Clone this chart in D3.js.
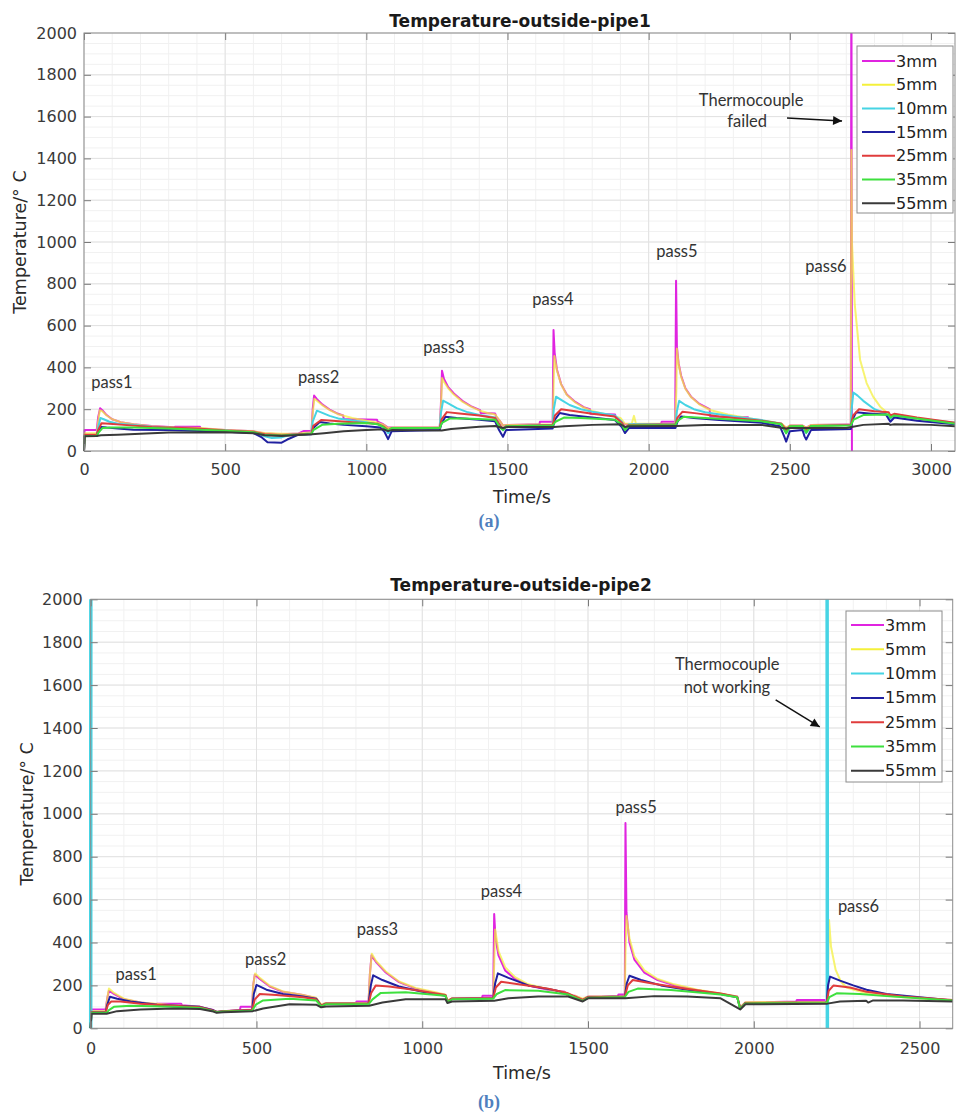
<!DOCTYPE html>
<html>
<head>
<meta charset="utf-8">
<script src="https://cdn.jsdelivr.net/npm/d3@7"></script>
<style>
body { margin: 0; background: #fff; }
svg { display: block; }
</style>
</head>
<body>
<svg id="chart" width="956" height="1113"></svg>
<script>
var seriesNames = ["3mm", "5mm", "10mm", "15mm", "25mm", "35mm", "55mm"];
var seriesColors = ["#e024e0", "#f4f03a", "#46d4e4", "#2020a0", "#e03c3c", "#3ee03e", "#3a3a3a"];
var seriesOpacity = [1, 0.72, 1, 1, 1, 1, 1];
var yTicks = [0, 200, 400, 600, 800, 1000, 1200, 1400, 1600, 1800, 2000];
var pipe1XTicks = [0, 500, 1000, 1500, 2000, 2500, 3000];
var pipe2XTicks = [0, 500, 1000, 1500, 2000, 2500];
var passNames = ["pass1", "pass2", "pass3", "pass4", "pass5", "pass6"];

// pipe 1: [time s, temperature C]
var pipe1_3mm = [[0,0],[2,100],[45,100],[50,160],[57,205],[65,195],[80,172],[100,152],[130,138],[175,128],[240,120],[320,114],[322,116],[411,116],[413,108],[500,100],[600,94],[640,84],[700,80],[760,84],[779,96],[806,96],[810,200],[815,265],[825,248],[845,222],[870,198],[900,178],[918,170],[920,153],[1038,150],[1040,140],[1060,128],[1077,112],[1100,112],[1215,113],[1260,114],[1264,220],[1268,384],[1275,345],[1290,305],[1310,275],[1340,240],[1370,215],[1403,195],[1405,182],[1456,180],[1460,165],[1475,140],[1484,122],[1500,124],[1613,128],[1615,140],[1660,140],[1663,579],[1667,470],[1675,390],[1690,320],[1710,270],[1740,235],[1770,210],[1792,200],[1794,178],[1881,175],[1883,160],[1900,145],[1916,128],[1930,128],[2044,130],[2046,140],[2094,140],[2097,815],[2100,500],[2106,420],[2115,360],[2130,300],[2150,260],[2180,225],[2216,200],[2218,165],[2352,162],[2354,150],[2420,140],[2470,130],[2487,110],[2500,122],[2545,122],[2558,112],[2575,124],[2700,127],[2716,127],[2718,2600],[2720,-60],[3085,-60]];
var pipe1_5mm = [[0,0],[2,85],[45,85],[50,140],[56,195],[65,190],[80,170],[100,152],[130,138],[175,128],[240,118],[320,112],[411,110],[500,100],[600,94],[640,86],[700,82],[760,84],[806,90],[810,180],[816,250],[825,240],[845,218],[870,196],[900,176],[950,158],[1000,145],[1040,135],[1060,126],[1077,110],[1100,112],[1260,112],[1264,200],[1268,349],[1275,330],[1290,300],[1310,270],[1340,236],[1370,212],[1400,194],[1430,182],[1456,175],[1475,140],[1484,122],[1500,124],[1660,128],[1663,300],[1666,455],[1675,385],[1690,318],[1710,268],[1740,232],[1770,208],[1800,192],[1850,175],[1900,158],[1916,130],[1940,130],[1948,168],[1955,130],[2094,130],[2098,300],[2100,490],[2106,415],[2115,355],[2130,298],[2150,258],[2180,222],[2220,195],[2280,175],[2350,158],[2420,142],[2470,132],[2487,112],[2500,122],[2545,122],[2558,112],[2575,124],[2716,127],[2718,1440],[2720,1000],[2730,700],[2749,435],[2772,325],[2795,260],[2820,212],[2855,172],[2900,158],[3000,145],[3085,135]];
var pipe1_10mm = [[0,0],[2,75],[45,75],[50,110],[58,158],[70,152],[90,140],[120,130],[175,125],[240,116],[320,110],[500,98],[600,90],[640,70],[665,62],[700,65],[730,78],[806,84],[810,140],[825,193],[840,185],[870,168],[900,156],[950,146],[1000,138],[1050,125],[1070,100],[1077,85],[1090,105],[1260,110],[1264,180],[1272,241],[1290,228],[1320,205],[1360,185],[1400,172],[1456,160],[1475,120],[1484,100],[1495,118],[1660,125],[1664,200],[1672,260],[1690,245],[1720,220],[1760,200],[1800,188],[1880,170],[1905,140],[1916,100],[1930,128],[2095,128],[2100,190],[2108,240],[2130,220],[2160,200],[2200,185],[2300,165],[2400,148],[2470,130],[2487,85],[2500,112],[2545,115],[2558,85],[2575,118],[2716,125],[2719,200],[2725,280],[2740,265],[2760,240],[2800,200],[2840,180],[2856,155],[2870,168],[2950,155],[3085,135]];
var pipe1_15mm = [[0,0],[2,72],[45,72],[50,95],[60,115],[80,112],[120,108],[175,102],[300,100],[500,92],[600,86],[630,65],[650,42],[700,40],[720,55],[760,78],[806,80],[812,110],[835,139],[870,132],[920,125],[1000,118],[1050,112],[1065,90],[1077,57],[1090,95],[1260,100],[1266,130],[1280,164],[1320,158],[1400,150],[1456,142],[1470,100],[1484,68],[1495,100],[1660,108],[1668,150],[1685,182],[1720,172],[1800,160],[1880,148],[1905,115],[1916,86],[1930,110],[2095,110],[2102,140],[2115,165],[2160,158],[2250,148],[2400,135],[2465,118],[2480,70],[2487,45],[2500,95],[2545,100],[2552,70],[2558,55],[2575,100],[2716,105],[2722,150],[2735,185],[2780,180],[2840,175],[2856,140],[2870,160],[2950,145],[3085,128]];
var pipe1_25mm = [[0,0],[2,78],[45,78],[50,100],[62,133],[90,130],[140,125],[240,115],[400,108],[500,98],[600,92],[640,80],[700,75],[760,80],[806,84],[812,120],[840,148],[880,145],[950,138],[1040,130],[1060,118],[1077,100],[1090,110],[1260,110],[1266,150],[1285,186],[1330,180],[1400,170],[1456,158],[1475,120],[1484,105],[1495,118],[1660,125],[1668,170],[1690,200],[1740,190],[1800,178],[1880,165],[1905,135],[1916,110],[1930,125],[2095,128],[2102,160],[2120,188],[2170,180],[2250,165],[2400,145],[2470,130],[2487,100],[2500,118],[2545,118],[2558,100],[2575,120],[2716,125],[2724,170],[2745,200],[2800,190],[2850,185],[2856,170],[2870,178],[2950,160],[3085,135]];
var pipe1_35mm = [[0,0],[2,72],[45,72],[50,85],[65,110],[100,113],[175,112],[300,108],[500,97],[600,90],[640,76],[700,74],[760,78],[806,82],[812,100],[845,126],[900,130],[1000,134],[1040,128],[1060,115],[1077,98],[1090,110],[1260,110],[1268,135],[1295,155],[1350,156],[1456,150],[1475,110],[1484,100],[1495,118],[1660,122],[1670,140],[1700,160],[1760,158],[1880,150],[1905,125],[1916,100],[1930,122],[2095,125],[2103,145],[2125,164],[2200,158],[2400,142],[2470,128],[2487,85],[2500,118],[2545,120],[2558,88],[2575,120],[2716,122],[2726,150],[2760,172],[2850,175],[2856,160],[2870,170],[2950,155],[3085,130]];
var pipe1_55mm = [[0,0],[2,70],[45,72],[60,75],[120,78],[200,82],[300,88],[500,90],[600,85],[640,75],[700,72],[760,76],[808,80],[850,85],[920,95],[1000,100],[1060,104],[1077,95],[1090,100],[1267,98],[1300,105],[1400,116],[1456,120],[1484,110],[1500,115],[1665,115],[1700,118],[1800,125],[1900,128],[1916,115],[1930,118],[2099,120],[2200,124],[2400,125],[2487,108],[2500,110],[2700,110],[2719,115],[2760,125],[2850,130],[2856,125],[2870,128],[3000,125],[3085,118]];

// pipe 2: [time s, temperature C]
var pipe2_3mm = [[0,0],[2,88],[45,88],[50,140],[55,175],[70,160],[100,135],[150,120],[198,112],[200,115],[273,115],[275,108],[330,100],[370,85],[380,76],[400,80],[450,85],[452,100],[487,100],[490,200],[495,250],[510,230],[540,195],[580,170],[640,155],[680,140],[695,108],[710,118],[800,118],[802,125],[838,125],[842,250],[847,340],[860,310],[890,260],[930,215],[980,185],[1040,165],[1070,155],[1076,128],[1090,140],[1180,140],[1182,152],[1214,152],[1217,533],[1221,420],[1230,340],[1250,270],[1280,230],[1320,200],[1380,180],[1430,170],[1440,150],[1460,152],[1484,135],[1500,148],[1590,150],[1592,158],[1611,158],[1613,957],[1616,540],[1625,400],[1640,320],[1670,260],[1710,225],[1760,200],[1830,178],[1900,160],[1950,148],[1959,95],[1975,120],[2128,125],[2130,132],[2216,132]];
var pipe2_5mm = [[0,0],[2,80],[45,80],[50,140],[55,186],[70,165],[100,138],[150,120],[250,108],[330,100],[370,84],[380,76],[400,80],[487,88],[490,200],[496,256],[510,235],[540,198],[580,172],[640,155],[680,142],[695,110],[710,118],[838,118],[842,250],[848,348],[860,315],[890,265],[930,218],[980,188],[1040,168],[1070,157],[1076,130],[1090,140],[1214,142],[1217,300],[1220,461],[1230,360],[1250,285],[1280,238],[1320,205],[1380,182],[1430,168],[1440,150],[1460,152],[1484,138],[1500,148],[1611,150],[1613,350],[1616,523],[1625,420],[1640,335],[1670,270],[1710,230],[1760,205],[1830,180],[1900,162],[1950,148],[1959,98],[1975,122],[2222,124],[2227,505],[2233,380],[2247,272],[2263,217],[2280,190],[2302,179],[2350,160],[2450,145],[2600,130]];
var pipe2_10mm = [[0,-60],[0.5,2600],[2221,2600],[2222,-60],[2600,-60]];
var pipe2_15mm = [[0,0],[2,75],[45,75],[50,110],[58,147],[80,138],[120,125],[200,110],[330,100],[370,84],[380,76],[400,80],[487,85],[492,160],[500,202],[530,180],[580,160],[640,148],[680,138],[695,105],[710,115],[838,115],[845,200],[852,247],[880,225],[930,195],[1000,170],[1070,152],[1076,125],[1090,138],[1214,140],[1220,210],[1228,256],[1260,235],[1320,200],[1400,178],[1440,160],[1484,130],[1500,145],[1611,148],[1617,210],[1625,245],[1660,225],[1720,200],[1800,180],[1900,160],[1950,145],[1959,92],[1975,118],[2220,120],[2224,200],[2230,241],[2260,222],[2300,200],[2340,180],[2400,160],[2500,145],[2600,130]];
var pipe2_25mm = [[0,0],[2,75],[45,75],[52,110],[62,125],[90,125],[150,115],[250,105],[330,98],[370,82],[380,76],[400,80],[487,85],[495,135],[510,160],[560,155],[640,145],[680,135],[695,105],[710,115],[838,115],[846,165],[860,200],[900,195],[980,178],[1070,155],[1076,125],[1090,138],[1214,140],[1222,190],[1238,217],[1290,205],[1380,185],[1440,163],[1484,132],[1500,145],[1611,148],[1620,200],[1635,225],[1690,210],[1780,188],[1900,162],[1950,146],[1959,92],[1975,118],[2220,120],[2226,175],[2240,199],[2290,190],[2340,170],[2450,148],[2600,132]];
var pipe2_35mm = [[0,0],[2,72],[48,72],[55,85],[70,100],[120,105],[250,100],[330,95],[370,80],[380,75],[400,78],[487,82],[498,110],[520,130],[600,138],[680,130],[695,102],[710,112],[838,112],[850,135],[875,165],[950,168],[1070,152],[1076,122],[1090,135],[1214,138],[1225,160],[1250,178],[1350,175],[1440,158],[1484,128],[1500,142],[1611,146],[1622,170],[1650,185],[1750,178],[1900,158],[1950,145],[1959,90],[1975,116],[2220,118],[2228,145],[2250,163],[2320,160],[2400,150],[2600,130]];
var pipe2_55mm = [[0,0],[2,68],[48,68],[80,80],[150,88],[250,92],[330,90],[370,78],[380,72],[400,75],[489,80],[520,92],[600,112],[680,110],[695,98],[710,102],[840,105],[880,120],[950,135],[1070,135],[1076,118],[1090,125],[1217,128],[1260,140],[1350,148],[1440,148],[1484,125],[1500,140],[1613,140],[1700,150],[1800,148],[1900,140],[1959,88],[1975,112],[2222,115],[2260,125],[2339,128],[2345,120],[2360,130],[2450,130],[2600,125]];

// label anchors in data units [time, temperature]
var pipe1PassAt = [[99,330],[831,354],[1275,498],[1661,727],[2100,957],[2628,885]];
var pipe2PassAt = [[137,253],[528,323],[865,463],[1239,640],[1645,1032],[2316,570]];

var svg = d3.select("#chart");
var defs = svg.append("defs");
defs.append("marker")
    .attr("id", "arrowHead")
    .attr("viewBox", "0 0 10 10")
    .attr("refX", 10).attr("refY", 5)
    .attr("markerUnits", "userSpaceOnUse")
    .attr("markerWidth", 11).attr("markerHeight", 9)
    .attr("orient", "auto")
    .append("path").attr("d", "M0,0L10,5L0,10Z").attr("fill", "#111");

var tickFont = "'DejaVu Sans', 'Liberation Sans', Arial, sans-serif";
var noteFont = "Lato, 'Open Sans', sans-serif";

function drawPanel(cfg) {
    var x = d3.scaleLinear().domain([0, cfg.xMax]).range([cfg.left, cfg.right]);
    var y = d3.scaleLinear().domain([0, 2000]).range([cfg.bottom, cfg.top]);
    var g = svg.append("g");

    // minor + major grid
    g.append("g").selectAll("line").data(d3.range(100, cfg.xMax, 100)).enter().append("line")
        .attr("x1", x).attr("x2", x).attr("y1", cfg.top).attr("y2", cfg.bottom)
        .attr("stroke", "#f1f1f1");
    g.append("g").selectAll("line").data(d3.range(50, 2000, 50)).enter().append("line")
        .attr("y1", y).attr("y2", y).attr("x1", cfg.left).attr("x2", cfg.right)
        .attr("stroke", "#f1f1f1");
    g.append("g").selectAll("line").data(cfg.xTicks).enter().append("line")
        .attr("x1", x).attr("x2", x).attr("y1", cfg.top).attr("y2", cfg.bottom)
        .attr("stroke", "#e2e2e2");
    g.append("g").selectAll("line").data(yTicks).enter().append("line")
        .attr("y1", y).attr("y2", y).attr("x1", cfg.left).attr("x2", cfg.right)
        .attr("stroke", "#e2e2e2");

    // data lines
    var clipId = cfg.id + "-clip";
    defs.append("clipPath").attr("id", clipId).append("rect")
        .attr("x", cfg.left - 3).attr("y", cfg.top)
        .attr("width", cfg.right - cfg.left + 6).attr("height", cfg.bottom - cfg.top);
    var line = d3.line().x(function(d) { return x(d[0]); }).y(function(d) { return y(d[1]); });
    g.append("g").attr("clip-path", "url(#" + clipId + ")")
        .selectAll("path").data(cfg.series).enter().append("path")
        .attr("d", line)
        .attr("fill", "none")
        .attr("stroke", function(d, i) { return seriesColors[i]; })
        .attr("stroke-opacity", function(d, i) { return seriesOpacity[i]; })
        .attr("stroke-width", function(d, i) { return cfg.widths[i]; })
        .attr("stroke-linejoin", "round");

    // axes, ticks inside like matlab
    var fmt = d3.format("d");
    var axes = [
        d3.axisLeft(y).tickValues(yTicks).tickFormat(fmt).tickPadding(cfg.yPad),
        d3.axisRight(y).tickValues(yTicks).tickFormat(""),
        d3.axisTop(x).tickValues(cfg.xTicks).tickFormat(""),
        d3.axisBottom(x).tickValues(cfg.xTicks).tickFormat(fmt).tickPadding(cfg.xPad)
    ];
    var shifts = ["translate(" + cfg.left + ",0)", "translate(" + cfg.right + ",0)",
                  "translate(0," + cfg.top + ")", "translate(0," + cfg.bottom + ")"];
    axes.forEach(function(ax, i) {
        var a = g.append("g").attr("transform", shifts[i])
            .call(ax.tickSize(-7).tickSizeOuter(0))
            .attr("font-family", tickFont).attr("font-size", 16);
        a.select(".domain").remove();
        a.selectAll(".tick line").attr("stroke", "#7a7a7a");
        a.selectAll(".tick text").attr("fill", "#3a3a3a");
    });
    g.append("rect")
        .attr("x", cfg.left).attr("y", cfg.top)
        .attr("width", cfg.right - cfg.left).attr("height", cfg.bottom - cfg.top)
        .attr("fill", "none").attr("stroke", "#8c8c8c");

    // titles
    g.append("text").attr("x", cfg.titleX).attr("y", cfg.titleY)
        .attr("text-anchor", "middle").attr("font-family", tickFont)
        .attr("font-weight", "bold").attr("font-size", 17).attr("fill", "#1a1a1a")
        .text(cfg.title);
    g.append("text").attr("transform", "translate(" + cfg.yLabelX + "," + (cfg.top + cfg.bottom) / 2 + ") rotate(-90)")
        .attr("text-anchor", "middle").attr("dominant-baseline", "central")
        .attr("font-family", tickFont).attr("font-size", 17.5).attr("fill", "#2a2a2a")
        .text("Temperature/\u00b0 C");
    g.append("text").attr("x", 522).attr("y", cfg.xLabelY)
        .attr("text-anchor", "middle").attr("dominant-baseline", "central")
        .attr("font-family", tickFont).attr("font-size", 17.5).attr("fill", "#2a2a2a")
        .text("Time/s");
    g.append("text").attr("x", 489).attr("y", cfg.tagY)
        .attr("text-anchor", "middle").attr("dominant-baseline", "central")
        .attr("font-family", "'Liberation Serif', 'Times New Roman', serif")
        .attr("font-weight", "bold").attr("font-size", 18).attr("fill", "#4f7fbe")
        .text(cfg.tag);

    // pass labels
    g.append("g").selectAll("text").data(cfg.passAt).enter().append("text")
        .attr("x", function(d) { return x(d[0]); })
        .attr("y", function(d) { return y(d[1]); })
        .attr("text-anchor", "middle").attr("dominant-baseline", "central")
        .attr("font-family", noteFont).attr("font-size", 16.5).attr("fill", "#333")
        .text(function(d, i) { return passNames[i]; });

    // note + arrow
    g.append("g").selectAll("text").data(cfg.note).enter().append("text")
        .attr("x", function(d) { return x(d.at[0]); })
        .attr("y", function(d) { return y(d.at[1]); })
        .attr("text-anchor", "middle").attr("dominant-baseline", "central")
        .attr("font-family", noteFont).attr("font-size", 16.5).attr("fill", "#333")
        .text(function(d) { return d.text; });
    g.append("line")
        .attr("x1", x(cfg.arrow[0][0])).attr("y1", y(cfg.arrow[0][1]))
        .attr("x2", x(cfg.arrow[1][0])).attr("y2", y(cfg.arrow[1][1]))
        .attr("stroke", "#111").attr("stroke-width", 1.5)
        .attr("marker-end", "url(#arrowHead)");

    // legend
    var lg = cfg.legend;
    var leg = g.append("g");
    leg.append("rect").attr("x", lg.x).attr("y", lg.y).attr("width", lg.w).attr("height", lg.h)
        .attr("fill", "#fff").attr("stroke", "#8c8c8c");
    var rows = leg.selectAll("g").data(seriesNames).enter().append("g")
        .attr("transform", function(d, i) { return "translate(" + lg.x + "," + (lg.row0 + i * lg.step) + ")"; });
    rows.append("line").attr("x1", 5).attr("x2", 38).attr("y1", 0).attr("y2", 0)
        .attr("stroke", function(d, i) { return seriesColors[i]; }).attr("stroke-width", 2);
    rows.append("text").attr("x", 39).attr("y", 0).attr("dominant-baseline", "central")
        .attr("font-family", tickFont).attr("font-size", 16).attr("fill", "#222")
        .text(function(d) { return d; });
}

drawPanel({
    id: "pipe1", left: 84, right: 955, top: 33, bottom: 451, xMax: 3085,
    xTicks: pipe1XTicks, yPad: 7, xPad: 13,
    series: [pipe1_3mm, pipe1_5mm, pipe1_10mm, pipe1_15mm, pipe1_25mm, pipe1_35mm, pipe1_55mm],
    widths: [2, 2, 2, 2, 2, 2, 2],
    title: "Temperature-outside-pipe1", titleX: 520, titleY: 27,
    yLabelX: 20, xLabelY: 497, tag: "(a)", tagY: 521,
    passAt: pipe1PassAt,
    note: [{ text: "Thermocouple", at: [2363, 1679] }, { text: "failed", at: [2349, 1579] }],
    arrow: [[2490, 1593], [2685, 1579]],
    legend: { x: 857, y: 46, w: 96, h: 167, row0: 61, step: 23.7 }
});

drawPanel({
    id: "pipe2", left: 90.7, right: 952.7, top: 599.3, bottom: 1028.3, xMax: 2600,
    xTicks: pipe2XTicks, yPad: 8, xPad: 14,
    series: [pipe2_3mm, pipe2_5mm, pipe2_10mm, pipe2_15mm, pipe2_25mm, pipe2_35mm, pipe2_55mm],
    widths: [2, 2, 3.5, 2, 2, 2, 2],
    title: "Temperature-outside-pipe2", titleX: 521, titleY: 591,
    yLabelX: 27, xLabelY: 1073, tag: "(b)", tagY: 1102,
    passAt: pipe2PassAt,
    note: [{ text: "Thermocouple", at: [1920, 1698] }, { text: "not working", at: [1919, 1591] }],
    arrow: [[2066, 1531], [2199, 1405]],
    legend: { x: 846, y: 611, w: 96, h: 171, row0: 625, step: 24.3 }
});
</script>
</body>
</html>
